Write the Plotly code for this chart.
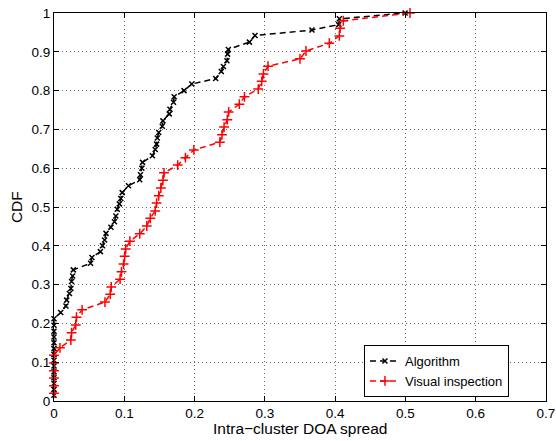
import plotly.graph_objects as go

# Algorithm (black) empirical CDF points
alg_x = [0, 0, 0, 0, 0, 0, 0, 0, 0, 0, 0, 0, 0, 0,
         0.0095, 0.017, 0.018, 0.022, 0.024, 0.025, 0.0265, 0.0275,
         0.052, 0.054, 0.066, 0.069, 0.072, 0.074, 0.081, 0.086, 0.088,
         0.090, 0.093, 0.095, 0.097, 0.106, 0.122, 0.123, 0.125, 0.126,
         0.140, 0.144, 0.146, 0.147, 0.149, 0.154, 0.155, 0.164, 0.165,
         0.170, 0.171, 0.185, 0.196, 0.230, 0.238, 0.241, 0.246, 0.247,
         0.248, 0.278, 0.286, 0.367, 0.405, 0.406, 0.4995]
alg_y = [0.015, 0.030, 0.045, 0.060, 0.075, 0.090, 0.105, 0.120, 0.135,
         0.150, 0.165, 0.180, 0.195, 0.212,
         0.228, 0.245, 0.260, 0.277, 0.290, 0.308, 0.322, 0.338,
         0.355, 0.370, 0.385, 0.400, 0.415, 0.432, 0.448, 0.462, 0.477,
         0.494, 0.508, 0.522, 0.537, 0.555, 0.570, 0.583, 0.600, 0.615,
         0.632, 0.648, 0.662, 0.678, 0.692, 0.708, 0.722, 0.740, 0.752,
         0.770, 0.784, 0.800, 0.817, 0.831, 0.849, 0.862, 0.877, 0.894,
         0.906, 0.925, 0.942, 0.956, 0.970, 0.985, 1.0]

# Visual inspection (red) empirical CDF points
vis_x = [0, 0, 0, 0, 0, 0, 0.0085, 0.024, 0.025, 0.031, 0.032, 0.040,
         0.0725, 0.080, 0.0815, 0.094, 0.096, 0.099, 0.1005, 0.102, 0.108,
         0.122, 0.132, 0.137, 0.144, 0.146, 0.149, 0.152, 0.155, 0.1565,
         0.176, 0.187, 0.199, 0.236, 0.239, 0.242, 0.2466, 0.2485, 0.2637,
         0.271, 0.2906, 0.2955, 0.298, 0.3045, 0.350, 0.3585, 0.3917,
         0.406, 0.407, 0.4116, 0.5065]
vis_y = [0.020, 0.039, 0.059, 0.078, 0.098, 0.118, 0.137, 0.157, 0.176,
         0.196, 0.216, 0.235, 0.255, 0.275, 0.294, 0.314, 0.333, 0.353,
         0.373, 0.392, 0.412, 0.431, 0.451, 0.471, 0.490, 0.510, 0.529,
         0.549, 0.569, 0.588, 0.608, 0.627, 0.647, 0.667, 0.686, 0.706,
         0.725, 0.745, 0.765, 0.784, 0.804, 0.824, 0.843, 0.863, 0.882,
         0.902, 0.922, 0.941, 0.961, 0.980, 1.0]

x_ticks = [0, 0.1, 0.2, 0.3, 0.4, 0.5, 0.6, 0.7]
x_labels = ["0", "0.1", "0.2", "0.3", "0.4", "0.5", "0.6", "0.7"]
y_ticks = [0, 0.1, 0.2, 0.3, 0.4, 0.5, 0.6, 0.7, 0.8, 0.9, 1]
y_labels = ["0", "0.1", "0.2", "0.3", "0.4", "0.5", "0.6", "0.7", "0.8", "0.9", "1"]

FONT = "Liberation Sans, Arial, Helvetica, sans-serif"

fig = go.Figure()
fig.add_trace(go.Scatter(
    x=alg_x, y=alg_y, name="Algorithm", mode="lines+markers",
    line=dict(color="black", width=1.5, dash="6px,4px"),
    marker=dict(symbol="x-thin", size=5, line=dict(color="black", width=1.5), color="black"),
    cliponaxis=False,
))
fig.add_trace(go.Scatter(
    x=vis_x, y=vis_y, name="Visual inspection", mode="lines+markers",
    line=dict(color="red", width=1.5, dash="6px,4px"),
    marker=dict(symbol="cross-thin", size=7, line=dict(color="red", width=1.5), color="red"),
    cliponaxis=False,
))

axis_common = dict(
    showline=True, linecolor="black", linewidth=1, mirror="allticks",
    ticks="inside", ticklen=5, tickcolor="black", automargin=False,
    showgrid=True, gridcolor="rgba(90,90,90,0.9)", griddash="1px,3px", gridwidth=1,
    zeroline=False, tickfont=dict(family=FONT, size=13.5, color="black"),
)

fig.update_layout(
    width=556, height=441,
    margin=dict(l=54, r=10, t=13, b=40),
    paper_bgcolor="white", plot_bgcolor="white",
    font=dict(family=FONT, size=13, color="black"),
    xaxis=dict(range=[0, 0.7], tickvals=x_ticks, ticktext=x_labels, **axis_common),
    yaxis=dict(range=[0, 1], tickvals=y_ticks, ticktext=y_labels, **axis_common),
    legend=dict(x=0.63, y=0.077, xanchor="left", yanchor="middle",
                bgcolor="white", bordercolor="black", borderwidth=1,
                font=dict(family=FONT, size=13), tracegroupgap=0,
                itemwidth=30),
    showlegend=True,
    annotations=[
        dict(text="Intra\u2212cluster DOA spread", xref="paper", yref="paper",
             x=0.5, y=-0.0696, xanchor="center", yanchor="middle",
             showarrow=False, font=dict(size=15.5)),
        dict(text="CDF", xref="paper", yref="paper", textangle=-90,
             x=-0.077, y=0.5, xanchor="center", yanchor="middle",
             showarrow=False, font=dict(size=15.5)),
    ],
)

fig.write_html(
    "out.html",
    config={"displayModeBar": False},
    post_script="document.body.style.margin='0';document.body.style.padding='0';document.body.style.overflow='hidden';",
)
